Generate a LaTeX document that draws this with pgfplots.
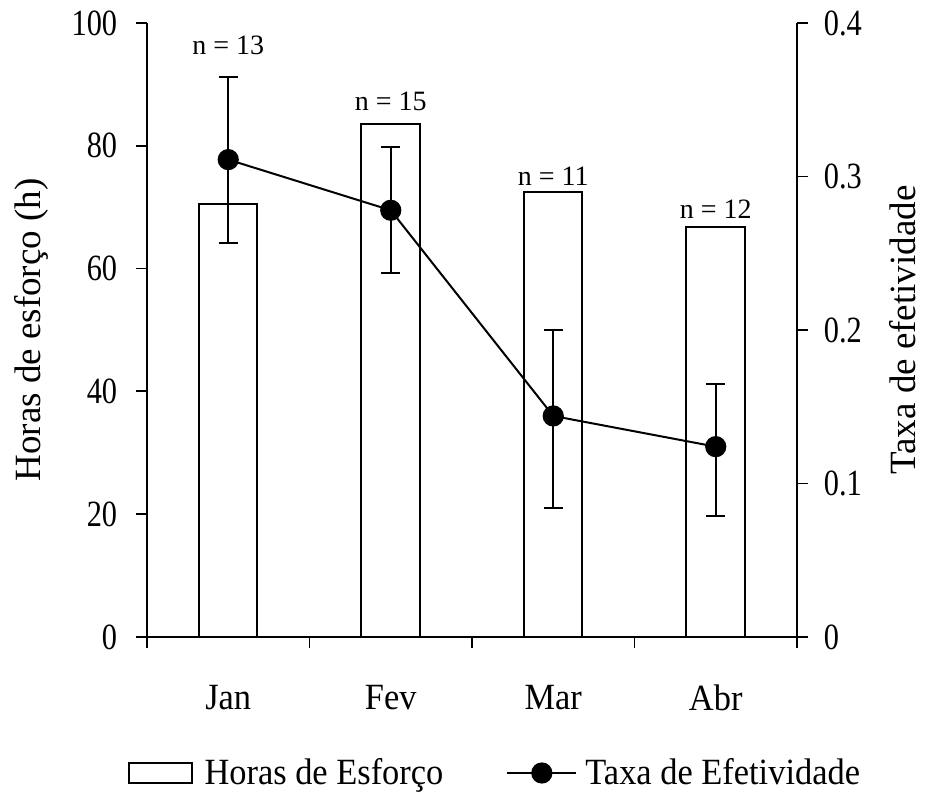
\documentclass[border=0pt]{standalone}
\usepackage{pgfplots}
\pgfplotsset{compat=1.18}
\usepackage{pgfplotstable}
\usepackage{fontspec}
\setmainfont{Liberation Serif}
\newfontfamily\condfont{Liberation Serif}[FakeStretch=0.93]
\newfontfamily\numfont{Liberation Serif}[FakeStretch=0.82]

% monthly fishing effort (hours) and catch effectiveness rate
\pgfplotstableread{
x hours rate eplus eminus
0 70.5 0.311 0.054 0.054
1 83.6 0.278 0.041 0.041
2 72.4 0.144 0.056 0.060
3 66.8 0.124 0.041 0.045
}\datatable

\begin{document}
\begin{tikzpicture}
\pgfplotsset{
  common/.style={
    scale only axis, width=325bp, height=307bp,
    xmin=-0.5, xmax=3.5,
    font=\fontsize{18.5bp}{22bp}\selectfont,
    tick align=outside,
    major tick length=5.4bp,
    every tick/.style={black, line width=0.9bp},
    axis line style={line width=1bp},
    /pgf/number format/assume math mode=true,
    yticklabel style={font=\numfont\fontsize{18.5bp}{22bp}\selectfont},
  },
}
\begin{axis}[common,
  ymin=0, ymax=100,
  axis x line*=bottom, axis y line*=left,
  xtick={-0.5,0.5,1.5,2.5,3.5},
  x tick label as interval,
  xticklabels={Jan,Fev,Mar,Abr},
  xticklabel style={yshift=-15bp, font=\condfont\fontsize{18.5bp}{22bp}\selectfont},
  ytick={0,20,...,100},
  yticklabel style={xshift=-6bp},
  ylabel={Horas de esforço (h)},
  every axis y label/.style={at={(axis description cs:-0.178,0.5)}, rotate=90, anchor=center},
  ybar, bar width=0.36,
]
\addplot[draw=black, fill=white, line width=1bp] table[x=x, y=hours] {\datatable};
\coordinate (O) at (rel axis cs:0,0);
\node[font=\fontsize{14bp}{16bp}\selectfont] at (axis cs:0,96.4) {n = 13};
\node[font=\fontsize{14bp}{16bp}\selectfont] at (axis cs:1,87.3) {n = 15};
\node[font=\fontsize{14bp}{16bp}\selectfont] at (axis cs:2,75.1) {n = 11};
\node[font=\fontsize{14bp}{16bp}\selectfont] at (axis cs:3,69.7) {n = 12};
\end{axis}
\begin{axis}[common,
  ymin=0, ymax=0.4,
  axis x line=none, axis y line*=right,
  ytick={0,0.1,...,0.4},
  yticklabel style={xshift=4.5bp, /pgf/number format/fixed, /pgf/number format/precision=1},
  ylabel={Taxa de efetividade},
  every axis y label/.style={at={(axis description cs:1.163,0.5)}, rotate=90, anchor=center},
  legend columns=2,
  legend style={draw=none, fill=none, at={(axis description cs:0.537,-0.2215)}, anchor=center,
    font=\condfont\fontsize{18.5bp}{22bp}\selectfont,
    /tikz/every even column/.append style={column sep=29.5bp}},
  legend cell align=left,
]
\addlegendimage{legend image code/.code={\draw[black, fill=white, line width=1bp] (0bp,-5bp) rectangle (31.5bp,5bp); \path (35.5bp,0bp);}}
\addlegendentry{Horas de Esforço}
\addplot[black, line width=1bp, mark=*, mark size=4.8bp,
  mark options={fill=black},
  legend image code/.code={\draw[black, line width=1bp] (0bp,0bp) -- (34.5bp,0bp); \fill[black] (17.25bp,0bp) circle (4.8bp); \path (36.5bp,0bp);},
  error bars/.cd, y dir=both, y explicit,
  error bar style={line width=1bp}, error mark options={rotate=90, mark size=4.8bp, line width=1bp}]
  table[x=x, y=rate, y error plus=eplus, y error minus=eminus] {\datatable};
\addlegendentry{Taxa de Efetividade}
\end{axis}
\pgfresetboundingbox
\path ([shift={(-73.5bp,-78.5bp)}]O) rectangle ([shift={(389.5bp,318.5bp)}]O);
\end{tikzpicture}
\end{document}
